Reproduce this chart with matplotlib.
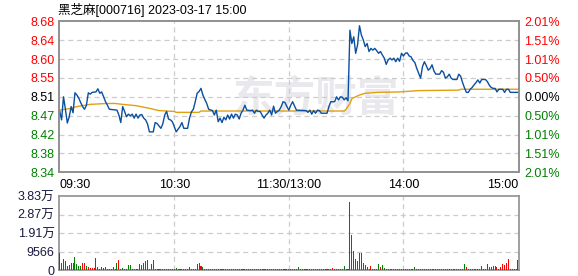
import matplotlib
matplotlib.use('Agg')
import matplotlib.pyplot as plt

plt.rcParams['font.family'] = ['Liberation Sans', 'Noto Sans CJK SC']

title = '黑芝麻[000716] 2023-03-17 15:00'
prev_close = 8.51

# minute index (0 = 09:30, 240 = 15:00) and price
price_min = [0, 1, 2, 3, 4, 5, 6, 7, 8, 9, 10, 11, 12, 13, 14, 15, 16, 17, 19, 20,
             21, 22, 23, 24, 25, 26, 30, 31, 32, 33, 34, 35, 36, 37, 38, 39, 40, 41, 42, 43,
             44, 45, 46, 47, 49, 50, 51, 53, 54, 55, 56, 57, 58, 59, 60, 61, 63, 64, 65, 67,
             68, 69, 70, 71, 72, 73, 74, 75, 76, 77, 78, 80, 81, 82, 83, 84, 85, 86, 87, 88,
             89, 90, 91, 92, 93, 94, 95, 96, 97, 98, 100, 101, 102, 103, 104, 105, 106, 107, 108, 109,
             110, 111, 112, 113, 114, 115, 116, 117, 118, 119, 120, 121, 122, 123, 124, 129, 130, 131, 132, 133,
             134, 135, 136, 137, 140, 141, 142, 144, 145, 146, 147, 148, 149, 150, 151, 152, 153, 154, 155, 156,
             157, 158, 159, 160, 161, 162, 163, 164, 165, 166, 167, 168, 169, 170, 171, 172, 173, 174, 175, 176,
             177, 178, 179, 180, 181, 182, 183, 184, 185, 186, 187, 188, 189, 190, 191, 192, 193, 194, 195, 196,
             197, 199, 200, 201, 202, 203, 204, 205, 206, 208, 209, 210, 211, 212, 213, 214, 215, 216, 217, 218,
             219, 220, 221, 223, 224, 225, 226, 227, 228, 229, 230, 232, 233, 234, 235, 236, 240]
price_val = [8.478, 8.458, 8.510, 8.482, 8.451, 8.465, 8.488, 8.474, 8.519, 8.514, 8.507, 8.497, 8.488, 8.482, 8.491, 8.519, 8.516, 8.520, 8.521, 8.528,
             8.518, 8.521, 8.510, 8.499, 8.491, 8.482, 8.480, 8.469, 8.452, 8.488, 8.477, 8.465, 8.471, 8.467, 8.471, 8.462, 8.471, 8.462, 8.469, 8.470,
             8.462, 8.458, 8.449, 8.431, 8.431, 8.452, 8.450, 8.439, 8.449, 8.469, 8.477, 8.460, 8.458, 8.454, 8.443, 8.431, 8.443, 8.452, 8.439, 8.439,
             8.462, 8.476, 8.482, 8.499, 8.518, 8.522, 8.529, 8.514, 8.504, 8.495, 8.482, 8.479, 8.469, 8.480, 8.454, 8.462, 8.452, 8.464, 8.458, 8.469,
             8.460, 8.471, 8.462, 8.471, 8.469, 8.460, 8.473, 8.480, 8.491, 8.480, 8.479, 8.480, 8.473, 8.480, 8.477, 8.477, 8.469, 8.462, 8.469, 8.473,
             8.480, 8.469, 8.489, 8.473, 8.477, 8.480, 8.488, 8.499, 8.497, 8.488, 8.480, 8.491, 8.499, 8.489, 8.480, 8.479, 8.475, 8.480, 8.471, 8.479,
             8.473, 8.480, 8.479, 8.473, 8.473, 8.488, 8.499, 8.499, 8.510, 8.503, 8.510, 8.509, 8.503, 8.508, 8.501, 8.660, 8.630, 8.645, 8.608, 8.627,
             8.670, 8.649, 8.638, 8.623, 8.630, 8.612, 8.619, 8.615, 8.619, 8.614, 8.608, 8.612, 8.604, 8.597, 8.583, 8.593, 8.597, 8.593, 8.597, 8.589,
             8.597, 8.590, 8.608, 8.602, 8.608, 8.609, 8.602, 8.600, 8.592, 8.587, 8.574, 8.563, 8.552, 8.578, 8.589, 8.580, 8.570, 8.574, 8.582, 8.568,
             8.561, 8.561, 8.569, 8.565, 8.552, 8.555, 8.561, 8.552, 8.549, 8.549, 8.561, 8.556, 8.542, 8.530, 8.520, 8.520, 8.527, 8.531, 8.537, 8.542,
             8.548, 8.541, 8.549, 8.549, 8.544, 8.536, 8.531, 8.529, 8.529, 8.521, 8.527, 8.527, 8.520, 8.527, 8.527, 8.520, 8.520]

avg_min = [0, 6, 9, 16, 25, 29, 33, 40, 47, 52, 60, 61, 73, 74, 149, 150, 152, 153, 157, 160,
           167, 178, 188, 209, 210, 240]
avg_val = [8.480, 8.484, 8.488, 8.493, 8.495, 8.495, 8.493, 8.490, 8.484, 8.479, 8.477, 8.475, 8.475, 8.478, 8.478, 8.482, 8.495, 8.506, 8.514, 8.518,
           8.520, 8.521, 8.524, 8.525, 8.527, 8.527]

volume = [9000, 3800, 5700, 4700, 2100, 2800, 3800, 3800, 6900, 3100, 2100, 2100, 3800, 3800, 2100, 1700, 1000, 1000, 1000, 6200,
          1700, 700, 1500, 1000, 1700, 500, 500, 500, 1700, 700, 3800, 5200, 700, 1200, 700, 700, 2800, 2800, 500, 500,
          500, 500, 3100, 2800, 3800, 4700, 5200, 700, 3100, 5200, 600, 500, 500, 700, 500, 500, 600, 500, 500, 500,
          500, 1200, 500, 500, 500, 500, 500, 500, 1700, 500, 500, 500, 3100, 3800, 2300, 1700, 500, 500, 500, 500,
          500, 500, 500, 500, 500, 500, 500, 500, 500, 500, 500, 500, 500, 500, 500, 500, 500, 500, 500, 500,
          500, 500, 500, 500, 500, 500, 500, 500, 500, 500, 500, 500, 500, 500, 500, 500, 500, 500, 500, 500,
          500, 500, 500, 500, 500, 1600, 500, 500, 500, 500, 700, 500, 500, 500, 500, 500, 500, 500, 500, 500,
          500, 500, 500, 1000, 500, 500, 500, 500, 500, 2100, 500, 500, 35300, 18200, 9900, 5700, 4700, 8800, 8800, 3600,
          2600, 1600, 700, 2100, 500, 500, 500, 3100, 1400, 2600, 1000, 500, 500, 500, 500, 500, 500, 500, 500, 500,
          500, 500, 500, 500, 500, 500, 1400, 500, 500, 500, 500, 500, 500, 500, 500, 500, 500, 500, 500, 500,
          500, 500, 500, 500, 500, 500, 500, 500, 500, 500, 500, 500, 3100, 1700, 500, 500, 500, 500, 500, 500,
          500, 2100, 500, 500, 3100, 1700, 1700, 2300, 2100, 1400, 500, 1700, 3100, 2600, 3800, 5700, 500, 500, 500, 500,
          5200]
# r = up (red), g = down (green)
vol_dir = ('grggrrgrggggrrgrrrrg'
           'rggrrrrrrrgrggrrggrg'
           'rggrgggrrrgrrrgrrgrr'
           'rgrrgrrrrrrrrrrggrgr'
           'grgrrgrgrrgrgrrgrrgr'
           'rgrrgrrgrrgrrgrrgrgr'
           'rrgrrgrrrrgrrgrrgrrr'
           'rrrrrrrrrgrrrgggrrgr'
           'grgrrrrgrggrrrrrrgrr'
           'rgrrgrgrrgrrgrrgrrgr'
           'rrgrrgrrgrrrgrrgrrgr'
           'rrrrgrgrrrrrrrrrgrrr'
           'r')

price_ticks = [prev_close + k * 0.0425 for k in range(-4, 5)]
price_labels = ['8.34', '8.38', '8.42', '8.47', '8.51', '8.55', '8.60', '8.64', '8.68']
pct_labels = ['2.01%', '1.51%', '1.01%', '0.50%', '0.00%', '0.50%', '1.01%', '1.51%', '2.01%']
time_ticks = [0, 60, 120, 180, 240]
time_labels = ['09:30', '10:30', '11:30/13:00', '14:00', '15:00']
vol_ticks = [0, 9566, 19132, 28698, 38264]
vol_labels = ['0', '9566', '1.91万', '2.87万', '3.83万']

red = '#ff0000'
green = '#008000'
grid_kw = dict(color='#cccccc', linestyle=(0, (4, 3)), linewidth=0.9)

fig = plt.figure(figsize=(5.78, 2.76), dpi=100)
ax = fig.add_axes([0.1016, 0.3757, 0.7962, 0.5471])
axv = fig.add_axes([0.1016, 0.0217, 0.7962, 0.2671])

fig.text(0.1, 0.963, title, fontsize=9, ha='left', va='center')

# watermark
ax.text(134, 8.506, '东方财富', fontsize=30, fontweight='bold', color='#e9e9ed',
        ha='center', va='center', zorder=0, family=['Noto Sans CJK SC'])

ax.plot(avg_min, avg_val, color='#e0a010', linewidth=1.0, zorder=3)
ax.plot(price_min, price_val, color='#0a4fa0', linewidth=1.0, zorder=4)

ax.set_xlim(-0.5, 240.5)
ax.set_ylim(price_ticks[0], price_ticks[-1])
ax.set_yticks(price_ticks)
ax.set_yticklabels(price_labels)
ax.set_xticks(time_ticks)
ax.set_xticklabels(time_labels)
ax.tick_params(length=0, labelsize=9, pad=3)
ax.tick_params(axis='x', pad=5)
xl = ax.get_xticklabels()
xl[0].set_ha('left')
xl[-1].set_ha('right')
for i, lab in enumerate(ax.get_yticklabels()):
    lab.set_color(green if i < 4 else ('black' if i == 4 else red))
for y in price_ticks[1:-1]:
    ax.axhline(y, zorder=1, **grid_kw)
for x in time_ticks[1:-1]:
    ax.axvline(x, zorder=1, **grid_kw)

axr = ax.twinx()
axr.set_ylim(ax.get_ylim())
axr.set_yticks(price_ticks)
axr.set_yticklabels(pct_labels)
axr.tick_params(length=0, labelsize=9, pad=4)
for i, lab in enumerate(axr.get_yticklabels()):
    lab.set_color(green if i < 4 else ('black' if i == 4 else red))

bar_colors = [red if c == 'r' else green for c in vol_dir]
axv.bar(range(len(volume)), volume, width=0.55, color=bar_colors, zorder=3)
axv.set_xlim(-0.5, 240.5)
axv.set_ylim(0, vol_ticks[-1])
axv.set_yticks(vol_ticks)
axv.set_yticklabels(vol_labels)
axv.set_xticks([])
axv.tick_params(length=0, labelsize=9, pad=3, labelcolor='#1a1a40')
for y in vol_ticks[1:-1]:
    axv.axhline(y, zorder=1, **grid_kw)
for x in time_ticks[1:-1]:
    axv.axvline(x, zorder=1, **grid_kw)

for a in (ax, axr, axv):
    for s in a.spines.values():
        s.set_color('#909090')
        s.set_linewidth(1.2)

fig.savefig('out.png', dpi=100)
